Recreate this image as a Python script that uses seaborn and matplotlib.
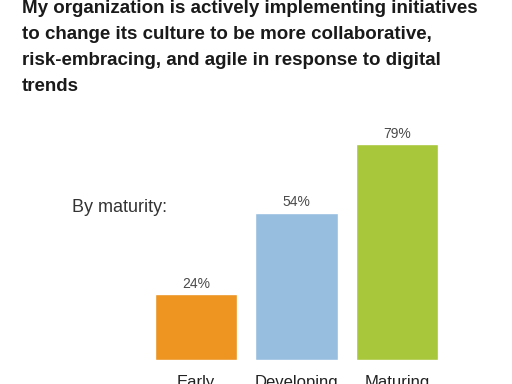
import matplotlib
matplotlib.use("Agg")
import matplotlib.pyplot as plt
import seaborn as sns

categories = ["Early", "Developing", "Maturing"]
values = [24, 54, 79]
colors = ["#ED9421", "#97BEDF", "#A9C73A"]
title_lines = [
    "My organization is actively implementing initiatives",
    "to change its culture to be more collaborative,",
    "risk-embracing, and agile in response to digital",
    "trends",
]

sns.set_style("white")
plt.rcParams['font.family'] = ['Liberation Sans', 'DejaVu Sans']

fig = plt.figure(figsize=(5.12, 3.84), dpi=100)
ax = fig.add_axes([145.75 / 512, 24 / 384, 301.5 / 512, 273 / 384])

sns.barplot(x=categories, y=values, hue=categories, palette=colors,
            width=0.816, legend=False, ax=ax, saturation=1)
ax.set_xlim(-0.5, 2.5)
ax.set_ylim(0, 100)
for c in ax.containers:
    ax.bar_label(c, labels=[f"{v:.0f}%" for v in c.datavalues],
                 padding=2.5, fontsize=10, color="#4a4a4a")

sns.despine(ax=ax, left=True, bottom=True)
ax.set_yticks([])
ax.set_xlabel("")
ax.set_ylabel("")
ax.tick_params(axis="x", length=0, pad=11, labelsize=12, labelcolor="#222222")

# title, one line at a time so the spacing follows the reference
for i, line in enumerate(title_lines):
    fig.text(22 / 512, 1 - (13 + 26 * i) / 384, line, fontsize=13.5,
             fontweight="bold", color="#1a1a1a", ha="left", va="baseline")
fig.text(72 / 512, 1 - 207 / 384, "By maturity:", fontsize=13,
         color="#333333", ha="left", va="center")

fig.savefig("out.png", dpi=100)
